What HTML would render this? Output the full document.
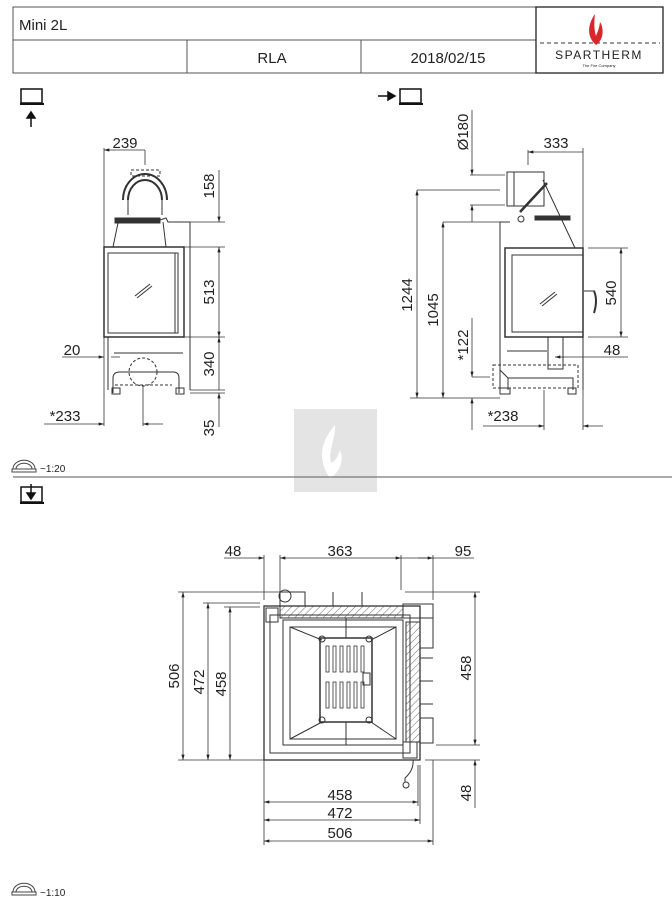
<!DOCTYPE html>
<html><head><meta charset="utf-8"><style>
html,body{margin:0;padding:0;background:#fff}
svg{display:block}
text{font-family:"Liberation Sans",sans-serif;fill:#222}
</style></head><body>
<svg width="672" height="902" viewBox="0 0 672 902" xmlns="http://www.w3.org/2000/svg">
<defs>
<marker id="a" viewBox="0 0 10 6" refX="10" refY="3" markerWidth="7" markerHeight="4" orient="auto-start-reverse"><path d="M0,0L10,3L0,6z" fill="#222"/></marker>
<pattern id="h" width="5" height="5" patternUnits="userSpaceOnUse" patternTransform="rotate(45)"><line x1="0" y1="0" x2="0" y2="5" stroke="#444" stroke-width="0.8"/></pattern>
</defs>
<!-- header -->
<g stroke="#555" stroke-width="1" fill="none">
<rect x="13" y="7" width="650" height="66"/>
<line x1="13" y1="40" x2="536" y2="40"/>
<line x1="187" y1="40" x2="187" y2="73"/>
<line x1="361" y1="40" x2="361" y2="73"/>
<rect x="536" y="7" width="127" height="66" stroke="#222" stroke-width="1.3"/>
<line x1="540" y1="43" x2="660" y2="43" stroke-dasharray="4,3" stroke="#333"/>
</g>
<text x="19" y="30" font-size="15">Mini 2L</text>
<text x="272" y="63" font-size="15" text-anchor="middle">RLA</text>
<text x="448" y="63" font-size="15" text-anchor="middle">2018/02/15</text>
<path d="M595,14 C588,24 586,36 596,45 C604,40 604,28 600,22 C599,30 597,33 596,36 C594,30 594,22 595,14z" fill="#d9262a"/>
<text x="599" y="59" font-size="12" text-anchor="middle" font-family="Liberation Serif,serif" letter-spacing="1.5">SPARTHERM</text>
<text x="599" y="67" font-size="4" text-anchor="middle">The Fire Company</text>
<!-- view icons -->
<g stroke="#111" fill="none" stroke-width="1.5">
<rect x="21" y="89" width="21" height="14"/><line x1="20" y1="104" x2="44" y2="104" stroke-width="2"/>
<line x1="31" y1="127" x2="31" y2="115"/><path d="M27,118L31,112L35,118z" fill="#111"/>
<rect x="400" y="89" width="21" height="14"/><line x1="399" y1="104" x2="423" y2="104" stroke-width="2"/>
<line x1="378" y1="96" x2="390" y2="96"/><path d="M388,92L395,96L388,100z" fill="#111"/>
<rect x="21" y="487" width="21" height="15"/><line x1="20" y1="503" x2="44" y2="503" stroke-width="2"/>
<line x1="31" y1="484" x2="31" y2="497"/><path d="M27,493L31,499L35,493z" fill="#111"/>
</g>
<!-- watermark -->
<rect x="294" y="409" width="83" height="83" fill="#e4e4e4"/>
<path d="M335,425 C322,440 316,458 330,478 C338,474 345,462 340,450 C338,458 334,462 331,463 C328,450 336,438 335,425z" fill="#fff"/>
<line x1="13" y1="477" x2="672" y2="477" stroke="#777" stroke-width="1.2"/>
<!-- scale icons -->
<g stroke="#444" fill="none" stroke-width="1">
<path d="M13,469 A10,8 0 0 1 35,469 M16,469 A7,5 0 0 1 32,469"/><rect x="12" y="469" width="24" height="3"/>
<path d="M13,892 A10,8 0 0 1 35,892 M16,892 A7,5 0 0 1 32,892"/><rect x="12" y="892" width="24" height="3"/>
</g>
<text x="40" y="472" font-size="10">~1:20</text>
<text x="40" y="896" font-size="10">~1:10</text>

<!-- FRONT VIEW -->
<g stroke="#333" fill="none" stroke-width="1">
<rect x="104" y="247" width="80" height="90" stroke-width="1.5"/>
<rect x="108" y="253" width="70" height="80"/>
<line x1="175" y1="253" x2="175" y2="333"/>
<line x1="184" y1="222" x2="190" y2="222"/><line x1="190" y1="222" x2="190" y2="388"/>
<line x1="184" y1="247" x2="184" y2="337"/>
<rect x="115" y="218" width="45" height="5" fill="#333"/>
<path d="M160,220 L166,218 L168,222 L190,222"/>
<line x1="118" y1="223" x2="113" y2="247"/><line x1="163" y1="222" x2="166" y2="247"/>
<path d="M123,200 A22,26 0 0 1 167,200 M128,200 A17,20 0 0 1 162,200" stroke-width="2"/>
<path d="M128,200 L128,215 M162,200 L162,215"/>
<rect x="131" y="170" width="29" height="6" stroke-dasharray="3,2"/>
<path d="M108,337 L108,390 M190,337 L190,390"/>
<line x1="114" y1="353" x2="183" y2="353"/>
<path d="M113,393 L113,378 Q113,372 120,372 L173,372 Q179,372 179,378 L179,393"/>
<rect x="112" y="388" width="8" height="6"/><rect x="176" y="388" width="8" height="6"/>
<circle cx="143" cy="372" r="14" stroke-dasharray="3,2"/>
<line x1="115" y1="385" x2="172" y2="385" stroke-dasharray="3,2"/>
<line x1="135" y1="296" x2="150" y2="284"/><line x1="137" y1="298" x2="152" y2="286"/>
</g>
<g stroke="#333" stroke-width="0.8" fill="none">
<line x1="104" y1="148" x2="104" y2="247"/><line x1="145" y1="150" x2="145" y2="165"/>
<line x1="104" y1="150" x2="145" y2="150" marker-start="url(#a)"/>
<line x1="190" y1="222" x2="225" y2="222"/><line x1="184" y1="247" x2="225" y2="247"/>
<line x1="184" y1="337" x2="225" y2="337"/><line x1="190" y1="390" x2="225" y2="390"/><line x1="190" y1="393" x2="225" y2="393"/>
<line x1="219" y1="170" x2="219" y2="222" marker-end="url(#a)"/>
<line x1="219" y1="247" x2="219" y2="337" marker-start="url(#a)" marker-end="url(#a)"/>
<line x1="219" y1="337" x2="219" y2="390" marker-start="url(#a)"/>
<line x1="219" y1="427" x2="219" y2="393" marker-end="url(#a)"/>
<line x1="62" y1="357" x2="104" y2="357" marker-end="url(#a)"/><line x1="111" y1="357" x2="120" y2="357"/>
<line x1="104" y1="337" x2="104" y2="426"/><line x1="143" y1="385" x2="143" y2="426"/>
<line x1="44" y1="424" x2="104" y2="424" marker-end="url(#a)"/><line x1="143" y1="424" x2="163" y2="424" marker-start="url(#a)"/>
</g>
<text x="125" y="148" font-size="15" text-anchor="middle">239</text>
<text x="72" y="355" font-size="15" text-anchor="middle">20</text>
<text x="65" y="421" font-size="15" text-anchor="middle">*233</text>
<g font-size="15" text-anchor="middle">
<text transform="translate(214,186) rotate(-90)">158</text>
<text transform="translate(214,292) rotate(-90)">513</text>
<text transform="translate(214,364) rotate(-90)">340</text>
<text transform="translate(214,428) rotate(-90)">35</text>
</g>

<!-- SIDE VIEW -->
<g stroke="#333" fill="none" stroke-width="1">
<rect x="505" y="248" width="78" height="89" stroke-width="1.5"/>
<rect x="512" y="255" width="71" height="77"/>
<line x1="500" y1="222" x2="500" y2="390"/>
<line x1="500" y1="222" x2="510" y2="222"/>
<rect x="535" y="216" width="35" height="4" fill="#333"/>
<path d="M543,180 L575,248"/>
<rect x="507" y="172" width="37" height="34"/><line x1="514" y1="172" x2="514" y2="206"/>
<line x1="520" y1="212" x2="547" y2="183" stroke-width="2.5"/>
<circle cx="521" cy="219" r="3"/>
<line x1="584" y1="291" x2="595" y2="291"/><path d="M594,291 Q598,300 594,313" stroke-width="2"/>
<line x1="540" y1="304" x2="555" y2="292"/><line x1="542" y1="306" x2="557" y2="294"/>
<rect x="548" y="337" width="15" height="32"/>
<line x1="507" y1="351" x2="547" y2="351"/>
<path d="M500,370 L508,378 L508,390 M508,378 L573,378 L573,390 M583,337 L583,390"/>
<rect x="500" y="388" width="10" height="6"/><rect x="568" y="388" width="8" height="6"/>
<rect x="493" y="365" width="85" height="23" stroke-dasharray="3,2"/>
</g>
<g stroke="#333" stroke-width="0.8" fill="none">
<line x1="417" y1="190" x2="500" y2="190"/><line x1="443" y1="222" x2="500" y2="222"/>
<line x1="470" y1="175" x2="505" y2="175"/><line x1="470" y1="205" x2="505" y2="205"/>
<line x1="472" y1="110" x2="472" y2="175" marker-end="url(#a)"/>
<line x1="472" y1="222" x2="472" y2="205" marker-end="url(#a)"/>
<line x1="417" y1="190" x2="417" y2="398" marker-start="url(#a)" marker-end="url(#a)"/>
<line x1="443" y1="222" x2="443" y2="398" marker-start="url(#a)" marker-end="url(#a)"/>
<line x1="410" y1="398" x2="500" y2="398"/>
<line x1="472" y1="318" x2="472" y2="377" marker-end="url(#a)"/><line x1="472" y1="377" x2="490" y2="377"/>
<line x1="472" y1="430" x2="472" y2="398" marker-end="url(#a)"/>
<line x1="528" y1="150" x2="528" y2="165"/><line x1="583" y1="148" x2="583" y2="248"/>
<line x1="528" y1="152" x2="583" y2="152" marker-start="url(#a)"/>
<line x1="588" y1="248" x2="628" y2="248"/><line x1="588" y1="337" x2="628" y2="337"/>
<line x1="621" y1="248" x2="621" y2="337" marker-start="url(#a)" marker-end="url(#a)"/>
<line x1="555" y1="357" x2="628" y2="357" marker-start="url(#a)"/>
<line x1="544" y1="390" x2="544" y2="430"/><line x1="583" y1="337" x2="583" y2="430"/>
<line x1="483" y1="426" x2="544" y2="426" marker-end="url(#a)"/><line x1="583" y1="426" x2="603" y2="426" marker-start="url(#a)"/>
</g>
<text x="556" y="148" font-size="15" text-anchor="middle">333</text>
<text x="612" y="355" font-size="15" text-anchor="middle">48</text>
<text x="503" y="421" font-size="15" text-anchor="middle">*238</text>
<g font-size="15" text-anchor="middle">
<text transform="translate(468,132) rotate(-90)">Ø180</text>
<text transform="translate(412,295) rotate(-90)">1244</text>
<text transform="translate(438,310) rotate(-90)">1045</text>
<text transform="translate(468,345) rotate(-90)">*122</text>
<text transform="translate(616,293) rotate(-90)">540</text>
</g>

<!-- PLAN VIEW -->
<g stroke="#333" fill="none" stroke-width="1">
<rect x="280" y="606" width="123" height="12" fill="url(#h)"/>
<rect x="406" y="622" width="14" height="120" fill="url(#h)"/>
<rect x="264" y="606" width="156" height="154" stroke-width="1.3"/>
<rect x="270" y="615" width="140" height="138"/>
<rect x="283" y="620" width="120" height="125"/>
<rect x="290" y="627" width="106" height="112"/>
<path d="M290,627 L322,640 M396,627 L371,640 M290,739 L322,722 M396,739 L371,722"/>
<rect x="320" y="638" width="52" height="84" stroke-width="1.5"/>
<g stroke-width="0.8">
<rect x="326" y="646" width="3" height="26"/><rect x="333" y="646" width="3" height="26"/><rect x="340" y="646" width="3" height="26"/><rect x="347" y="646" width="3" height="26"/><rect x="354" y="646" width="3" height="26"/><rect x="361" y="646" width="3" height="26"/>
<rect x="326" y="682" width="3" height="26"/><rect x="333" y="682" width="3" height="26"/><rect x="340" y="682" width="3" height="26"/><rect x="347" y="682" width="3" height="26"/><rect x="354" y="682" width="3" height="26"/><rect x="361" y="682" width="3" height="26"/>
</g>
<rect x="363" y="673" width="7" height="12"/>
<circle cx="322" cy="639" r="3"/><circle cx="369" cy="639" r="3"/><circle cx="322" cy="720" r="3"/><circle cx="369" cy="720" r="3"/>
<line x1="346" y1="618" x2="346" y2="638"/><line x1="346" y1="722" x2="346" y2="745"/>
<rect x="280" y="592" width="25" height="14"/><circle cx="285" cy="596" r="6"/>
<rect x="403" y="604" width="30" height="14"/><rect x="420" y="618" width="13" height="30"/><rect x="420" y="718" width="13" height="25"/>
<line x1="420" y1="658" x2="433" y2="658"/><line x1="420" y1="681" x2="433" y2="681"/><line x1="420" y1="704" x2="433" y2="704"/>
<line x1="333" y1="592" x2="333" y2="606"/><line x1="362" y1="592" x2="362" y2="606"/>
<path d="M413,760 Q414,770 405,778 L405,782"/><circle cx="406" cy="785" r="3"/>
<rect x="266" y="608" width="12" height="14"/><rect x="403" y="742" width="14" height="16"/>
</g>
<g stroke="#333" stroke-width="0.8" fill="none">
<line x1="224" y1="558" x2="264" y2="558" marker-end="url(#a)"/>
<line x1="280" y1="558" x2="401" y2="558" marker-start="url(#a)" marker-end="url(#a)"/>
<line x1="401" y1="558" x2="474" y2="558"/><line x1="418" y1="558" x2="433" y2="558" marker-end="url(#a)"/>
<line x1="264" y1="555" x2="264" y2="600"/><line x1="280" y1="555" x2="280" y2="592"/>
<line x1="401" y1="555" x2="401" y2="590"/><line x1="433" y1="555" x2="433" y2="600"/>
<line x1="178" y1="592" x2="280" y2="592"/><line x1="203" y1="603" x2="260" y2="603"/><line x1="224" y1="607" x2="260" y2="607"/>
<line x1="178" y1="760" x2="264" y2="760"/>
<line x1="183" y1="592" x2="183" y2="760" marker-start="url(#a)" marker-end="url(#a)"/>
<line x1="208" y1="603" x2="208" y2="760" marker-start="url(#a)" marker-end="url(#a)"/>
<line x1="230" y1="607" x2="230" y2="760" marker-start="url(#a)" marker-end="url(#a)"/>
<line x1="405" y1="592" x2="480" y2="592"/><line x1="436" y1="745" x2="480" y2="745"/><line x1="425" y1="760" x2="480" y2="760"/>
<line x1="475" y1="592" x2="475" y2="745" marker-start="url(#a)" marker-end="url(#a)"/>
<line x1="475" y1="808" x2="475" y2="760" marker-end="url(#a)"/>
<line x1="264" y1="760" x2="264" y2="845"/><line x1="418" y1="765" x2="418" y2="806"/><line x1="420" y1="765" x2="420" y2="824"/><line x1="433" y1="760" x2="433" y2="845"/>
<line x1="264" y1="802" x2="418" y2="802" marker-start="url(#a)" marker-end="url(#a)"/>
<line x1="264" y1="820" x2="420" y2="820" marker-start="url(#a)" marker-end="url(#a)"/>
<line x1="264" y1="841" x2="433" y2="841" marker-start="url(#a)" marker-end="url(#a)"/>
</g>
<g font-size="15" text-anchor="middle">
<text x="233" y="556">48</text><text x="340" y="556">363</text><text x="463" y="556">95</text>
<text x="340" y="800">458</text><text x="340" y="818">472</text><text x="340" y="838">506</text>
<text transform="translate(179,676) rotate(-90)">506</text>
<text transform="translate(204,682) rotate(-90)">472</text>
<text transform="translate(226,684) rotate(-90)">458</text>
<text transform="translate(471,668) rotate(-90)">458</text>
<text transform="translate(471,793) rotate(-90)">48</text>
</g>
</svg>
</body></html>
